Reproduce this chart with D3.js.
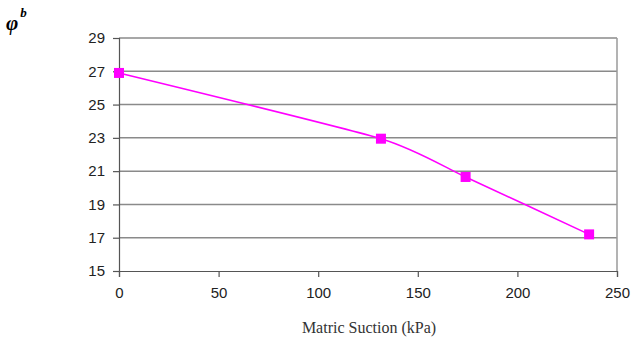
<!DOCTYPE html>
<html>
<head>
<meta charset="utf-8">
<script src="https://cdn.jsdelivr.net/npm/d3@7"></script>
<style>
  body { margin: 0; background: #fff; }
  svg { display: block; }
</style>
</head>
<body>
<svg id="chart" width="634" height="338"></svg>
<script>
// Friction angle with respect to matric suction (phi^b) versus matric suction
const suction = [0, 131.5, 174, 236];
const phiB = [26.9, 22.95, 20.65, 17.2];
const xTicks = [0, 50, 100, 150, 200, 250];
const yTicks = [15, 17, 19, 21, 23, 25, 27, 29];

const svg = d3.select("#chart");
const plotLeft = 119, plotRight = 617, plotTop = 38, plotBottom = 271;

const x = d3.scaleLinear().domain([0, 250]).range([plotLeft, plotRight]);
const y = d3.scaleLinear().domain([15, 29]).range([plotBottom, plotTop]);

// horizontal gridlines
svg.append("g")
  .selectAll("line")
  .data(yTicks.filter(d => d > 15))
  .join("line")
  .attr("x1", plotLeft).attr("x2", plotRight)
  .attr("y1", d => y(d)).attr("y2", d => y(d))
  .attr("stroke", "#8a8a8a").attr("stroke-width", 1.5);

// right border of plot area
svg.append("line")
  .attr("x1", plotRight).attr("x2", plotRight)
  .attr("y1", plotTop).attr("y2", plotBottom)
  .attr("stroke", "#9a9a9a").attr("stroke-width", 1.5);

// y axis
const yAxis = d3.axisLeft(y).tickValues(yTicks).tickSize(6).tickPadding(8);
const gy = svg.append("g").attr("transform", `translate(${plotLeft},0)`).call(yAxis);
gy.select(".domain").attr("stroke", "#555").attr("stroke-width", 1.2);
gy.selectAll(".tick line").attr("stroke", "#555").attr("stroke-width", 1.2);
gy.selectAll("text")
  .attr("font-family", "Liberation Sans, Arial, sans-serif")
  .attr("font-size", 15).attr("fill", "#222");

// x axis
const xAxis = d3.axisBottom(x).tickValues(xTicks).tickSize(6).tickPadding(10);
const gx = svg.append("g").attr("transform", `translate(0,${plotBottom})`).call(xAxis);
gx.select(".domain").attr("stroke", "#555").attr("stroke-width", 1.2);
gx.selectAll(".tick line").attr("stroke", "#555").attr("stroke-width", 1.2);
gx.selectAll("text")
  .attr("font-family", "Liberation Sans, Arial, sans-serif")
  .attr("font-size", 15).attr("fill", "#222");

// axis title
svg.append("text")
  .attr("x", 369).attr("y", 333)
  .attr("text-anchor", "middle")
  .attr("font-family", "Liberation Serif, Times New Roman, serif")
  .attr("font-size", 16).attr("fill", "#333")
  .text("Matric Suction (kPa)");

// phi^b label
const lab = svg.append("text")
  .attr("x", 6).attr("y", 30)
  .attr("font-family", "Liberation Serif, Times New Roman, serif")
  .attr("font-weight", "bold").attr("font-style", "italic")
  .attr("fill", "#000");
lab.append("tspan").attr("font-size", 21).text("φ");
lab.append("tspan").attr("font-size", 13).attr("dx", 2).attr("dy", -13).text("b");

// smoothed data line
const pts = suction.map((s, i) => [s, phiB[i]]);
svg.append("path")
  .datum(pts)
  .attr("fill", "none")
  .attr("stroke", "#ff00ff")
  .attr("stroke-width", 1.6)
  .attr("d", d3.line()
    .x(d => x(d[0])).y(d => y(d[1]))
    .curve(d3.curveCardinal.tension(0.4)));

// square markers
svg.append("g")
  .selectAll("rect")
  .data(pts)
  .join("rect")
  .attr("x", d => x(d[0]) - 5)
  .attr("y", d => y(d[1]) - 5)
  .attr("width", 10).attr("height", 10)
  .attr("fill", "#ff00ff");
</script>
</body>
</html>
